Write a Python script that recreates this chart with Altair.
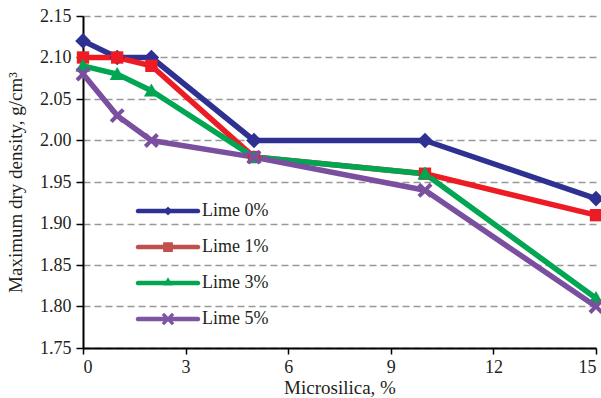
import altair as alt
import pandas as pd

microsilica = [0, 1, 2, 5, 10, 15]
series_names = ["Lime 0%", "Lime 1%", "Lime 3%", "Lime 5%"]
lime0 = [2.12, 2.10, 2.10, 2.00, 2.00, 1.93]
lime1 = [2.10, 2.10, 2.09, 1.98, 1.96, 1.91]
lime3 = [2.09, 2.08, 2.06, 1.98, 1.96, 1.81]
lime5 = [2.08, 2.03, 2.00, 1.98, 1.94, 1.80]
x_ticks = [0, 3, 6, 9, 12, 15]
y_ticks = [1.75, 1.80, 1.85, 1.90, 1.95, 2.00, 2.05, 2.10, 2.15]

line_colors = ["#2E3192", "#ED1C24", "#00A651", "#7B4FA0"]
legend_colors = ["#2E3192", "#C0504D", "#00A651", "#7E55A3"]

rows = []
for name, vals in zip(series_names, [lime0, lime1, lime3, lime5]):
    for xv, yv in zip(microsilica, vals):
        rows.append({"x": xv, "y": yv, "series": name})
df = pd.DataFrame(rows)

# marker paths (unit = sqrt(size)/2)
diamond = "M0,-1.2L1.2,0L0,1.2L-1.2,0Z"
square = "M-0.95,-0.95H0.95V0.95H-0.95Z"
triangle = "M0,-1.1L1.15,0.9H-1.15Z"
xmark = ("M0,-0.44L0.71,-1.15L1.15,-0.71L0.44,0L1.15,0.71L0.71,1.15L0,0.44"
         "L-0.71,1.15L-1.15,0.71L-0.44,0L-1.15,-0.71L-0.71,-1.15Z")
marker_paths = [diamond, square, triangle, xmark]

bar = "M-4.6,-0.36H4.6A0.36,0.36 0 0 1 4.6,0.36H-4.6A0.36,0.36 0 0 1 -4.6,-0.36Z"
leg_diamond = "M0,-0.65L0.8,0L0,0.65L-0.8,0Z"
leg_square = "M-0.75,-0.75H0.75V0.75H-0.75Z"
leg_triangle = "M0,-0.9L0.75,0.4H-0.75Z"
leg_x = ("M0,-0.36L0.6,-0.96L0.96,-0.6L0.36,0L0.96,0.6L0.6,0.96L0,0.36"
         "L-0.6,0.96L-0.96,0.6L-0.36,0L-0.96,-0.6L-0.6,-0.96Z")
legend_paths = [bar + leg_diamond, bar + leg_square, bar + leg_triangle, bar + leg_x]

FONT = "Liberation Serif"
TXT = "#231F20"

x_enc = alt.X("x:Q", scale=alt.Scale(domain=[0, 15], nice=False),
              axis=alt.Axis(values=x_ticks, title="Microsilica, %", grid=False,
                            domainColor="#000", domainWidth=2, tickColor="#000",
                            tickWidth=1.5, tickSize=6, labelPadding=4,
                            labelFontSize=18, labelFont=FONT, labelColor=TXT,
                            titleFont=FONT, titleFontSize=19, titleFontWeight="normal",
                            titleColor=TXT, titleY=30, titleBaseline="top"))
y_enc = alt.Y("y:Q", scale=alt.Scale(domain=[1.75, 2.15], nice=False, zero=False),
              axis=alt.Axis(values=y_ticks, format=".2f", title="Maximum dry density, g/cm³",
                            grid=True, gridColor="#999999", gridDash=[7, 4], gridWidth=1.3,
                            domainColor="#000", domainWidth=2, tickColor="#000",
                            tickWidth=1.5, tickSize=7, labelPadding=5,
                            labelFontSize=18, labelFont=FONT, labelColor=TXT,
                            titleFont=FONT, titleFontSize=19, titleFontWeight="normal",
                            titleColor=TXT, titleX=-58, titleY=166, titleBaseline="bottom"))

color_lines = alt.Color("series:N", scale=alt.Scale(domain=series_names, range=line_colors), legend=None)

lines = alt.Chart(df).mark_line(strokeWidth=5.5, strokeJoin="round").encode(
    x=x_enc, y=y_enc, color=color_lines, detail="series:N")

points = alt.Chart(df).mark_point(filled=True, opacity=1, size=169, strokeWidth=0).encode(
    x="x:Q", y="y:Q", color=color_lines,
    shape=alt.Shape("series:N", scale=alt.Scale(domain=series_names, range=marker_paths), legend=None))

leg = alt.Legend(title=None, orient="none", legendX=76, legendY=186, padding=0,
                 symbolSize=169, symbolStrokeWidth=0, labelFont=FONT, labelFontSize=18,
                 labelColor=TXT, labelOffset=25, rowPadding=18, symbolOpacity=1)

legend_layer = alt.Chart(df).transform_filter("false").mark_point(
    filled=True, opacity=1, size=169, strokeWidth=0).encode(
    x="x:Q", y="y:Q",
    color=alt.Color("series:N", scale=alt.Scale(domain=series_names, range=legend_colors), legend=leg),
    shape=alt.Shape("series:N", scale=alt.Scale(domain=series_names, range=legend_paths), legend=leg))

chart = alt.layer(lines, points, legend_layer).resolve_scale(
    color="independent", shape="independent").properties(
    width=513, height=332,
    autosize=alt.AutoSizeParams(type="none"),
    padding={"left": 83, "top": 16, "right": 5, "bottom": 50},
    background="white").configure_view(stroke=None)

chart.save("out.html", embed_options={"renderer": "svg", "actions": False})
